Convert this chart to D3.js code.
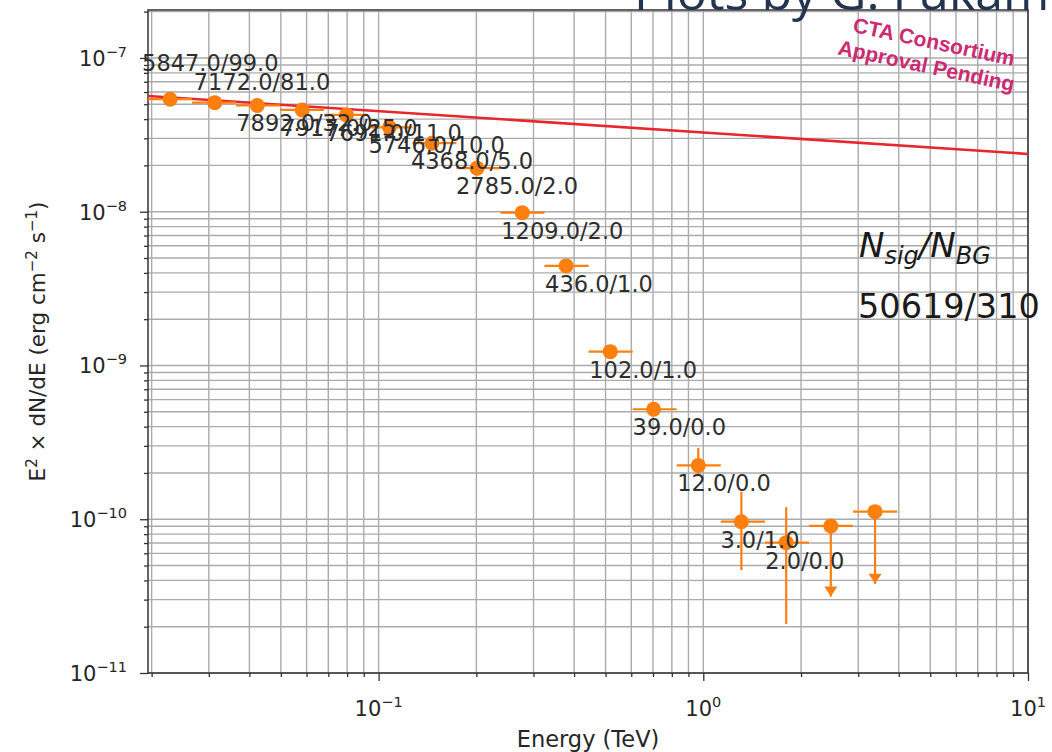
<!DOCTYPE html>
<html>
<head>
<meta charset="utf-8">
<title>SED</title>
<style>
  body { margin: 0; background: #fff; }
  text { font-family: "DejaVu Sans", sans-serif; fill: #262626; }
  .grid line { stroke: #ababab; stroke-width: 1.4; }
  .axis path { display: none; }
  .axis line { stroke: #333; stroke-width: 1.3; }
  .frame { fill: none; stroke: #333; stroke-width: 1.5; }
  .model { fill: none; stroke: #e8272c; stroke-width: 2.6; }
  .err { stroke: #ff7f0e; stroke-width: 2.2; }
  .count { font-size: 22.5px; fill: #2e2e2e; }
</style>
<script src="https://d3js.org/d3.v7.min.js"></script>
</head>
<body>
<svg id="chart" width="1052" height="752"></svg>
<script>
// 데이터
var energy = [0.0228, 0.0313, 0.0423, 0.0582, 0.0796, 0.108, 0.146, 0.201, 0.277,
              0.378, 0.517, 0.703, 0.965, 1.31, 1.80, 2.47, 3.38];
var binLo = [0.01949, 0.02663, 0.0364, 0.04974, 0.06799, 0.09294, 0.1271, 0.1737, 0.2373,
             0.3244, 0.4434, 0.6061, 0.8282, 1.132, 1.548, 2.115, 2.892];
var binHi = [0.02663, 0.0364, 0.04974, 0.06799, 0.09294, 0.1271, 0.1737, 0.2373, 0.3244,
             0.4434, 0.6061, 0.8282, 1.132, 1.548, 2.115, 2.892, 3.953];
var flux = [5.39e-8, 5.12e-8, 4.91e-8, 4.59e-8, 4.26e-8, 3.54e-8, 2.79e-8, 1.92e-8, 9.86e-9,
            4.44e-9, 1.23e-9, 5.19e-10, 2.24e-10, 9.64e-11, 7.04e-11, 9.04e-11, 1.12e-10];
var errLo = [4e-10, 4e-10, 4e-10, 4e-10, 4e-10, 4e-10, 4e-10, 4e-10, 3e-10,
             2e-10, 8e-11, 4e-11, 3e-11, 4.97e-11, 4.96e-11, 5.9e-11, 7.4e-11];
var errHi = [4e-10, 4e-10, 4e-10, 4e-10, 4e-10, 4e-10, 4e-10, 4e-10, 3e-10,
             2e-10, 8e-11, 4e-11, 6.7e-11, 5.47e-11, 4.93e-11, 0, 0];
var upperLimit = [0, 0, 0, 0, 0, 0, 0, 0, 0, 0, 0, 0, 0, 0, 0, 1, 1];
var nSig = [5847, 7172, 7892, 7917, 7691, 5746, 4368, 2785, 1209, 436, 102, 39, 12, 3, 2];
var nBG = [99, 81, 32, 25, 11, 10, 5, 2, 2, 1, 1, 0, 0, 1, 0];
var modelE = [0.01949, 10];        // 빨간 선 (power law)
var modelF = [5.66e-8, 2.375e-8];
var xMajor = [0.1, 1, 10];
var yMajor = [1e-11, 1e-10, 1e-9, 1e-8, 1e-7];
var totals = ["50619", "310"];

// 라벨 위치 (px, 점 기준)
var labelShift = [[-28, -28], [-21, -13]];
var defaultShift = [-21, 26];

var svg = d3.select("#chart");
var pLeft = 148, pRight = 1028, pTop = 10, pBottom = 673;

var x = d3.scaleLog().domain([0.01949, 10]).range([pLeft, pRight]);
var y = d3.scaleLog().domain([1e-11, 2.05e-7]).range([pBottom, pTop]);

function isMajor(v) { return Math.abs(Math.log10(v) - Math.round(Math.log10(v))) < 1e-6; }
var xAll = x.ticks(), yAll = y.ticks();
var xMinor = xAll.filter(function(v) { return !isMajor(v); });
var yMinor = yAll.filter(function(v) { return !isMajor(v); });

// 그리드
var grid = svg.append("g").attr("class", "grid");
grid.selectAll("line.gx").data(xAll).enter().append("line")
  .attr("x1", function(d) { return x(d); }).attr("x2", function(d) { return x(d); })
  .attr("y1", pTop).attr("y2", pBottom);
grid.selectAll("line.gy").data(yAll).enter().append("line")
  .attr("y1", function(d) { return y(d); }).attr("y2", function(d) { return y(d); })
  .attr("x1", pLeft).attr("x2", pRight);

// 축 눈금
svg.append("g").attr("class", "axis").attr("transform", "translate(0," + pBottom + ")")
  .call(d3.axisBottom(x).tickValues(xMinor).tickSize(4).tickFormat(""));
svg.append("g").attr("class", "axis").attr("transform", "translate(0," + pBottom + ")")
  .call(d3.axisBottom(x).tickValues(xMajor).tickSize(8).tickFormat(""));
svg.append("g").attr("class", "axis").attr("transform", "translate(" + pLeft + ",0)")
  .call(d3.axisLeft(y).tickValues(yMinor).tickSize(4).tickFormat(""));
svg.append("g").attr("class", "axis").attr("transform", "translate(" + pLeft + ",0)")
  .call(d3.axisLeft(y).tickValues(yMajor).tickSize(8).tickFormat(""));

svg.append("rect").attr("class", "frame")
  .attr("x", pLeft).attr("y", pTop).attr("width", pRight - pLeft).attr("height", pBottom - pTop);

// 눈금 라벨 10^n
function powLabel(sel, v) {
  var e = Math.round(Math.log10(v));
  sel.append("tspan").text("10");
  sel.append("tspan").attr("dy", -9).style("font-size", "14.5px")
    .text(e < 0 ? "\u2212" + (-e) : "" + e);
}
xMajor.forEach(function(v) {
  var t = svg.append("text").attr("x", x(v)).attr("y", 716)
    .attr("text-anchor", "middle").style("font-size", "21px");
  powLabel(t, v);
});
yMajor.forEach(function(v) {
  var t = svg.append("text").attr("x", 127).attr("y", y(v) + 8)
    .attr("text-anchor", "end").style("font-size", "21px");
  powLabel(t, v);
});

// 축 제목
svg.append("text").attr("x", (pLeft + pRight) / 2).attr("y", 747)
  .attr("text-anchor", "middle").style("font-size", "22.5px").text("Energy (TeV)");

var yl = svg.append("text").attr("transform", "translate(45," + (pTop + pBottom) / 2 + ") rotate(-90)")
  .attr("text-anchor", "middle").style("font-size", "21.5px");
yl.append("tspan").text("E");
yl.append("tspan").attr("dy", -8).style("font-size", "15px").text("2");
yl.append("tspan").attr("dy", 8).text(" \u00d7 dN/dE (erg cm");
yl.append("tspan").attr("dy", -8).style("font-size", "15px").text("\u22122");
yl.append("tspan").attr("dy", 8).text(" s");
yl.append("tspan").attr("dy", -8).style("font-size", "15px").text("\u22121");
yl.append("tspan").attr("dy", 8).text(")");

// 모델 선
svg.append("path").attr("class", "model")
  .attr("d", d3.line().x(function(d) { return x(d[0]); }).y(function(d) { return y(d[1]); })
    (modelE.map(function(e, i) { return [e, modelF[i]]; })));

// 에러바
var pts = energy.map(function(e, i) { return i; });
var g = svg.append("g");
g.selectAll("line.xe").data(pts).enter().append("line").attr("class", "err")
  .attr("x1", function(i) { return x(binLo[i]); })
  .attr("x2", function(i) { return x(binHi[i]); })
  .attr("y1", function(i) { return y(flux[i]); })
  .attr("y2", function(i) { return y(flux[i]); });
g.selectAll("line.ye").data(pts).enter().append("line").attr("class", "err")
  .attr("x1", function(i) { return x(energy[i]); })
  .attr("x2", function(i) { return x(energy[i]); })
  .attr("y1", function(i) { return y(flux[i] + errHi[i]); })
  .attr("y2", function(i) { return y(flux[i] - errLo[i]); });
// upper limit 화살표
g.selectAll("path.ul").data(pts.filter(function(i) { return upperLimit[i]; })).enter()
  .append("path").attr("fill", "#ff7f0e")
  .attr("d", function(i) {
    var cx = x(energy[i]), ty = y(flux[i] - errLo[i]);
    return "M" + (cx - 6.5) + "," + (ty - 10) + "L" + (cx + 6.5) + "," + (ty - 10) + "L" + cx + "," + ty + "Z";
  });
g.selectAll("circle").data(pts).enter().append("circle")
  .attr("cx", function(i) { return x(energy[i]); })
  .attr("cy", function(i) { return y(flux[i]); })
  .attr("r", 7.5).attr("fill", "#ff7f0e");

// 카운트 라벨
svg.selectAll("text.count").data(nSig).enter().append("text").attr("class", "count")
  .attr("x", function(d, i) { return x(energy[i]) + (labelShift[i] || defaultShift)[0]; })
  .attr("y", function(d, i) { return y(flux[i]) + (labelShift[i] || defaultShift)[1]; })
  .text(function(d, i) { return d.toFixed(1) + "/" + nBG[i].toFixed(1); });

// N_sig / N_BG
var nt = svg.append("text").attr("x", 859).attr("y", 257)
  .style("font-size", "34px").style("font-style", "italic").style("fill", "#1a1a1a");
nt.append("tspan").text("N");
nt.append("tspan").attr("dy", 7).style("font-size", "24px").text("sig");
nt.append("tspan").attr("dy", -7).text("/N");
nt.append("tspan").attr("dy", 7).style("font-size", "24px").text("BG");
svg.append("text").attr("x", 858).attr("y", 318).style("font-size", "33.5px").style("fill", "#1a1a1a")
  .text(totals[0] + "/" + totals[1]);

// CTA 문구
var cta = svg.append("g").attr("transform", "translate(1013,66) rotate(12)");
cta.append("text").attr("text-anchor", "end")
  .style("font-family", "'Liberation Sans', Arial, sans-serif").style("font-weight", "bold")
  .style("font-size", "21px").style("fill", "#cc2a72").text("CTA Consortium");
cta.append("text").attr("text-anchor", "end").attr("x", 5).attr("y", 25)
  .style("font-family", "'Liberation Sans', Arial, sans-serif").style("font-weight", "bold")
  .style("font-size", "21px").style("fill", "#cc2a72").text("Approval Pending");

// 위쪽 잘린 제목
svg.append("text").attr("x", 634).attr("y", 10)
  .style("font-family", "'Open Sans', sans-serif").style("font-size", "50px").style("fill", "#243450")
  .text("Plots by G. Fukami");
</script>
</body>
</html>
